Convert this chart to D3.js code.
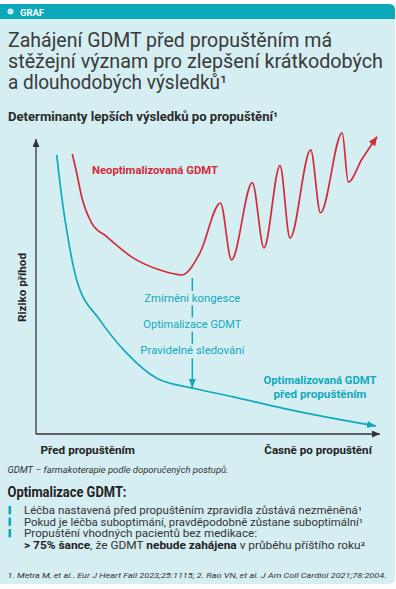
<!DOCTYPE html>
<html><head><meta charset="utf-8">
<script src="https://cdn.jsdelivr.net/npm/d3@7"></script>
<style>html,body{margin:0;padding:0;background:#fff;} svg{display:block;font-family:Roboto,'Noto Sans',sans-serif;}</style>
</head><body><div id="chart"></div>
<script>
// ---- data (x: time 0-100, y: risk 0-100) ----
const redCurve = [
  [10.55,94.9],[11.77,88.8],[13.28,80.4],[16.19,71.5],[20.55,66.9],[28.20,59.7],[36.05,55.6],
  [42.44,53.9],[47.67,61.4],[53.63,78.3],[56.83,59.0],[62.88,85.2],[66.28,63.1],[70.93,91.0],
  [73.84,66.4],[79.85,96.3],[82.70,75.0],[89.01,102.1],[90.78,85.4],[94.77,93.2],[99.13,100.8]
];
const tealCurve = [
  [6.02,94.6],[7.47,80.4],[9.39,65.8],[11.83,52.2],[18.60,38.6],[26.37,27.4],[35.09,18.9],
  [45.73,15.5],[57.36,12.6],[71.89,8.7],[86.43,5.3],[98.84,2.7]
];
const interventions = ["Zmírnění kongesce","Optimalizace GDMT","Pravidelné sledování"];
const interventionX = 45.44;
const interventionFrom = 52.9, interventionTo = 15.6;
const xLabels = ["Před propuštěním","Časně po propuštění"];
const yLabel = "Riziko příhod";
const redLabel = "Neoptimalizovaná GDMT";
const tealLabel = ["Optimalizovaná GDMT","před propuštěním"];
const titleLines = ["Zahájení GDMT před propuštěním má","stěžejní význam pro zlepšení krátkodobých","a dlouhodobých výsledků¹"];
const subtitle = "Determinanty lepších výsledků po propuštění¹";
const footnote = "GDMT – farmakoterapie podle doporučených postupů.";
const boxTitle = "Optimalizace GDMT:";
const bulletLines = [
  "Léčba nastavená před propuštěním zpravidla zůstává nezměněná¹",
  "Pokud je léčba suboptimání, pravděpodobně zůstane suboptimální¹",
  "Propuštění vhodných pacientů bez medikace:"
];
const lastLine = [["> 75% šance",true],[", že GDMT ",false],["nebude zahájena",true],[" v průběhu příštího roku²",false]];
const references = "1. Metra M, et al.. Eur J Heart Fail 2023;25:1115; 2. Rao VN, et al. J Am Coll Cardiol 2021;78:2004.";

// ---- styling ----
const W=396,H=589;
const BG="#d5eef2", TEAL="#0aa8b8", LINE_TEAL="#12a9bc", RED="#d42a3a", DARK="#333", TITLE="#3a3a3a";

const svg=d3.select("#chart").append("svg").attr("width",W).attr("height",H);
const defs=svg.append("defs");
function marker(id,color,w,h){
  defs.append("marker").attr("id",id).attr("viewBox",`0 0 ${w} ${h}`)
    .attr("refX",w).attr("refY",h/2).attr("markerWidth",w).attr("markerHeight",h)
    .attr("markerUnits","userSpaceOnUse").attr("orient","auto")
    .append("path").attr("d",`M0,0L${w},${h/2}L0,${h}Z`).attr("fill",color);
}
marker("aRed",RED,9,8); marker("aTeal",LINE_TEAL,9,7); marker("aDark",DARK,8,7);

// panel
svg.append("path").attr("fill",BG)
  .attr("d","M0,4H389Q395,4 395,10V578Q395,584 389,584H0Z");
svg.append("path").attr("fill",TEAL)
  .attr("d","M0,4H389Q395,4 395,10V19H0Z");
svg.append("circle").attr("cx",10.5).attr("cy",11.5).attr("r",3).attr("fill","#c9eef2");

function txt(o){
  const t=svg.append("text").attr("x",o.x).attr("y",o.y)
    .attr("font-size",o.size).attr("font-weight",o.weight||400)
    .attr("font-style",o.style||"normal").attr("fill",o.fill||DARK)
    .attr("text-anchor",o.anchor||"start");
  if(o.text!==undefined) t.text(o.text);
  if(o.len){t.attr("textLength",o.len).attr("lengthAdjust","spacingAndGlyphs");}
  if(o.transform) t.attr("transform",o.transform);
  return t;
}
txt({x:20,y:15.5,text:"GRAF",size:9.5,weight:700,fill:"#fff",len:24});

const titleY=[46.5,67.5,88.5], titleLen=[324,375,219];
titleLines.forEach((l,i)=>txt({x:8,y:titleY[i],text:l,size:19.5,fill:TITLE,len:titleLen[i]}));
txt({x:8,y:121,text:subtitle,size:12.5,weight:700,fill:"#2a2a2a",len:270});

// ---- chart ----
const x=d3.scaleLinear().domain([0,100]).range([36,380]);
const y=d3.scaleLinear().domain([0,100]).range([434,139]);

svg.append("line").attr("x1",x(0)).attr("x2",x(0)).attr("y1",y(0)).attr("y2",y(100))
  .attr("stroke",DARK).attr("stroke-width",1.3).attr("marker-end","url(#aDark)");
svg.append("line").attr("x1",x(0)).attr("x2",x(100)).attr("y1",y(0)).attr("y2",y(0))
  .attr("stroke",DARK).attr("stroke-width",1.3).attr("marker-end","url(#aDark)");

const line=d3.line().x(d=>x(d[0])).y(d=>y(d[1])).curve(d3.curveMonotoneX);
svg.append("path").datum(tealCurve).attr("d",line).attr("fill","none")
  .attr("stroke",LINE_TEAL).attr("stroke-width",1.7).attr("marker-end","url(#aTeal)");
svg.append("path").datum(redCurve).attr("d",line).attr("fill","none")
  .attr("stroke",RED).attr("stroke-width",1.7).attr("marker-end","url(#aRed)");

// intervention arrow
svg.append("line").attr("x1",x(interventionX)).attr("x2",x(interventionX))
  .attr("y1",y(interventionFrom)).attr("y2",y(interventionTo))
  .attr("stroke",LINE_TEAL).attr("stroke-width",1.5).attr("marker-end","url(#aTeal)");
const labY=[301.5,327.8,354.3], labLen=[96,98,104];
interventions.forEach((s,i)=>{
  svg.append("rect").attr("x",x(interventionX)-4).attr("width",8)
    .attr("y",labY[i]-10.5).attr("height",14.5).attr("fill",BG);
  txt({x:x(interventionX),y:labY[i],text:s,size:11,fill:LINE_TEAL,anchor:"middle",len:labLen[i]});
});

txt({x:92,y:174,text:redLabel,size:11.5,weight:700,fill:RED,len:126});
txt({x:320,y:383.5,text:tealLabel[0],size:11.5,weight:700,fill:LINE_TEAL,anchor:"middle",len:113});
txt({x:320,y:397.5,text:tealLabel[1],size:11.5,weight:700,fill:LINE_TEAL,anchor:"middle",len:93});

txt({x:0,y:0,text:yLabel,size:11,weight:700,fill:"#222",anchor:"middle",len:69,
     transform:"translate(26,287.5) rotate(-90)"});
txt({x:40.5,y:454,text:xLabels[0],size:11.5,weight:700,fill:"#222",len:94.5});
txt({x:264.3,y:454,text:xLabels[1],size:11.5,weight:700,fill:"#222",len:107.5});

// ---- footer ----
txt({x:7.5,y:472.5,text:footnote,size:8.5,style:"italic",fill:"#333",len:221});
txt({x:7.5,y:497,text:boxTitle,size:14.5,weight:700,fill:"#222",len:119});
const bY=[514,525.5,537], bLen=[338,339,233];
bulletLines.forEach((s,i)=>{
  svg.append("rect").attr("x",8.5).attr("y",bY[i]-8).attr("width",2.6).attr("height",8.3).attr("fill",TEAL);
  txt({x:24,y:bY[i],text:s,size:10.2,fill:"#333",len:bLen[i]});
});
const ll=txt({x:24,y:549,size:10.2,fill:"#333",len:341});
lastLine.forEach(([s,b])=>ll.append("tspan").attr("font-weight",b?700:400).attr("fill",b?"#222":"#333").text(s));
txt({x:7.5,y:577.5,text:references,size:7.8,style:"italic",fill:"#333",len:379});
</script></body></html>
